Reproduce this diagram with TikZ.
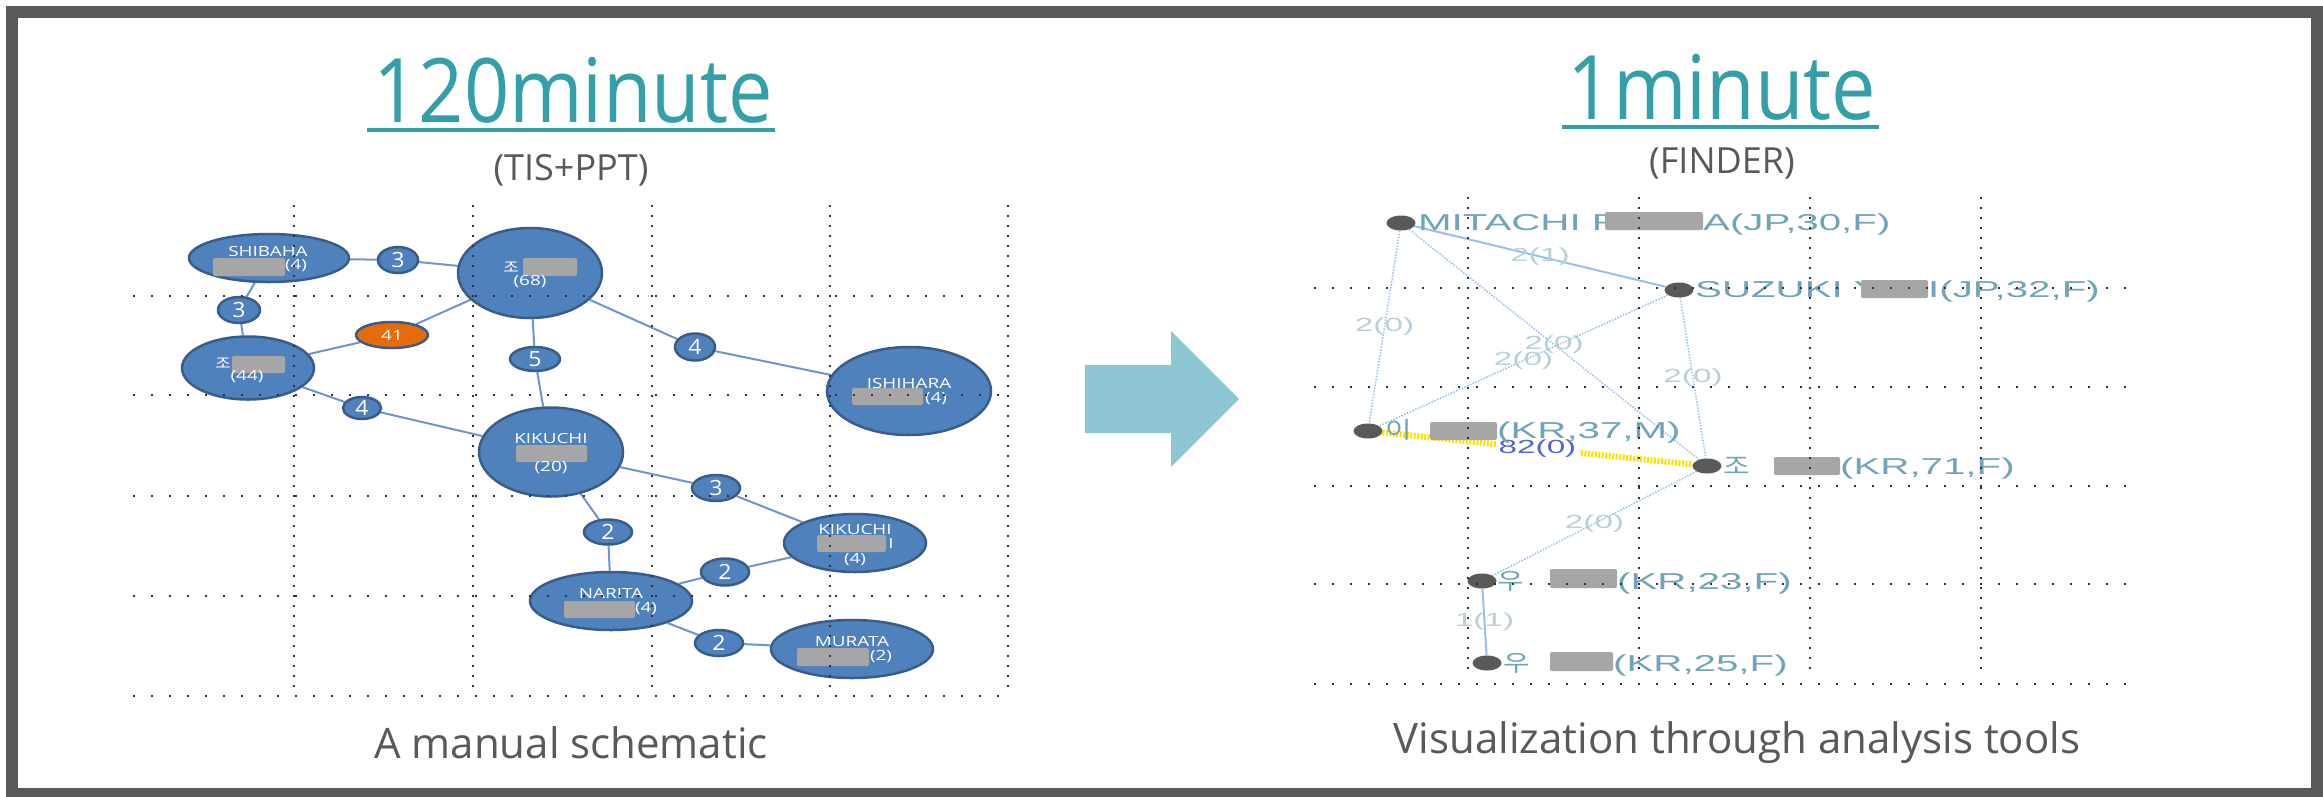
\documentclass[tikz,border=0pt]{standalone}
\usepackage{fontspec}
\setmainfont{Open Sans}
\newfontfamily\titlef[FakeStretch=0.89]{Open Sans}
\newfontfamily\nodef[FakeStretch=1.35]{Open Sans}
\newfontfamily\digf[FakeStretch=1.1]{Open Sans}
\newfontfamily\nodekr[FakeStretch=1.2]{Noto Sans CJK KR}
\newfontfamily\finder[FakeStretch=1.75]{Liberation Sans}
\newfontfamily\finderkr[FakeStretch=1.25]{Noto Sans CJK KR}
\usetikzlibrary{shapes.geometric}
\pgfdeclarelayer{bg}
\pgfdeclarelayer{edges}
\pgfsetlayers{bg,edges,main}
\definecolor{teal}{RGB}{51,159,168}
\definecolor{txtgray}{RGB}{89,89,89}
\definecolor{framegray}{RGB}{89,89,89}
\definecolor{arrowblue}{RGB}{142,198,212}
\definecolor{nodeblue}{RGB}{79,129,189}
\definecolor{nodeborder}{RGB}{56,93,138}
\definecolor{orangeN}{RGB}{228,108,10}
\definecolor{ledge}{RGB}{110,150,205}
\definecolor{redact}{RGB}{166,166,166}
\definecolor{gridc}{RGB}{50,50,50}
\definecolor{dotgray}{RGB}{89,89,89}
\definecolor{fline}{RGB}{150,192,240}
\definecolor{ftextc}{RGB}{112,164,184}
\definecolor{flabelc}{RGB}{185,208,216}
\definecolor{yellowL}{RGB}{255,225,0}
\definecolor{blueL}{RGB}{85,100,215}
\begin{document}
\begin{tikzpicture}[x=1pt,y=-1pt,
  lnode/.style={ellipse, draw=nodeborder, fill=nodeblue, line width=2.5, inner sep=0},
  lnum/.style={lnode, font=\digf\fontsize{21}{24}\selectfont, text=white},
  ltext/.style={font=\nodef\fontsize{14}{16}\selectfont, text=white, inner sep=0},
  ltextkr/.style={font=\nodekr\fontsize{14}{16}\selectfont, text=white, inner sep=0},
  ledgeS/.style={draw=ledge, line width=2},
  gridh/.style={draw=gridc, line width=2, dash pattern=on 2pt off 16pt},
  gridv/.style={draw=gridc, line width=2, dash pattern=on 2pt off 8pt},
  fnode/.style={ellipse, fill=dotgray, minimum width=29, minimum height=15, inner sep=0},
  ftext/.style={font=\finder\fontsize{23}{26}\selectfont, text=ftextc, inner sep=0, anchor=base west},
  ftextkr/.style={font=\finderkr\fontsize{23}{26}\selectfont, text=ftextc, inner sep=0, anchor=base west},
  flab/.style={font=\finder\fontsize{19}{21}\selectfont, text=flabelc, inner sep=0},
  fsolid/.style={draw=fline, line width=2},
  fdots/.style={draw=fline, line width=1.5, dash pattern=on 1.5pt off 1.5pt},
  redbox/.style={fill=redact, rounded corners=2}
]
\useasboundingbox (0,0) rectangle (2323,796);
\begin{pgfonlayer}{bg}
\fill[white] (0,0) rectangle (2323,796);
\draw[framegray, line width=12] (12,12) rectangle (2317,794);
\end{pgfonlayer}

% titles
\node[anchor=base, text=teal, font=\titlef\fontsize{89}{100}\selectfont, inner sep=0] (t1) at (573,122) {120minute};
\draw[teal, line width=4] ([xshift=-6pt,yshift=-8pt]t1.base west) -- ([xshift=2pt,yshift=-8pt]t1.base east);
\node[text=txtgray, font=\fontsize{36}{40}\selectfont, inner sep=0] (s1) at (571,170) {(TIS+PPT)};
\node[anchor=base, text=teal, font=\titlef\fontsize{89}{100}\selectfont, inner sep=0] (t2) at (1722,119) {1minute};
\draw[teal, line width=4] ([xshift=-6pt,yshift=-8pt]t2.base west) -- ([xshift=2pt,yshift=-8pt]t2.base east);
\node[text=txtgray, font=\fontsize{36}{40}\selectfont, inner sep=0] (s2) at (1722,163) {(FINDER)};

% arrow
\fill[arrowblue] (1085,365) -- (1171,365) -- (1171,331) -- (1239,399) -- (1171,467) -- (1171,433) -- (1085,433) -- cycle;

% ---------- left diagram ----------
\node[lnode, minimum width=160, minimum height=48] (SH) at (269,258) {};
\node[lnode, minimum width=144, minimum height=90] (J68) at (530,273) {};
\node[lnode, minimum width=132, minimum height=63] (J44) at (248,368) {};
\node[lnode, minimum width=164, minimum height=88] (ISH) at (909,391) {};
\node[lnode, minimum width=144, minimum height=89] (K20) at (551,452) {};
\node[lnode, minimum width=142, minimum height=58] (K4) at (855,543) {};
\node[lnode, minimum width=162, minimum height=58] (NAR) at (611,601) {};
\node[lnode, minimum width=162, minimum height=58] (MUR) at (852,649) {};

\node[lnum, minimum width=40, minimum height=26] (e1) at (398,260) {3};
\node[lnum, minimum width=42, minimum height=26] (e2) at (239,310) {3};
\node[lnode, fill=orangeN, minimum width=72, minimum height=26, font=\nodef\fontsize{14}{16}\selectfont, text=white] (e3) at (392,335) {41};
\node[lnum, minimum width=50, minimum height=24] (e4) at (535,359) {5};
\node[lnum, minimum width=40, minimum height=27] (e5) at (695,347) {4};
\node[lnum, minimum width=38, minimum height=22] (e6) at (362,408) {4};
\node[lnum, minimum width=48, minimum height=26] (e7) at (716,488) {3};
\node[lnum, minimum width=48, minimum height=25] (e8) at (608,532) {2};
\node[lnum, minimum width=48, minimum height=27] (e9) at (725,572) {2};
\node[lnum, minimum width=48, minimum height=26] (e10) at (719,643) {2};

\begin{pgfonlayer}{edges}
\draw[ledgeS] (SH) -- (e1) -- (J68);
\draw[ledgeS] (SH) -- (e2) -- (J44);
\draw[ledgeS] (J44) -- (e3) -- (J68);
\draw[ledgeS] (J68) -- (e4) -- (K20);
\draw[ledgeS] (J68) -- (e5) -- (ISH);
\draw[ledgeS] (J44) -- (e6) -- (K20);
\draw[ledgeS] (K20) -- (e7) -- (K4);
\draw[ledgeS] (K20) -- (e8) -- (NAR);
\draw[ledgeS] (NAR) -- (e9) -- (K4);
\draw[ledgeS] (NAR) -- (e10) -- (MUR);
\end{pgfonlayer}

% texts in left nodes
\node[ltext] (SHa) at (268,251) {SHIBAHA};
\fill[redbox] (213,258) rectangle (285,276);
\node[ltext] (SHb) at (296,266) {(4)};
\node[ltextkr] (J68a) at (511,267) {조};
\fill[redbox] (523,258) rectangle (577,276);
\node[ltext] (J68b) at (530,282) {(68)};
\node[ltextkr] (J44a) at (223,363) {조};
\fill[redbox] (232,356) rectangle (285,373);
\node[ltext] (J44b) at (247,377) {(44)};
\node[ltext] (ISHa) at (909,383) {ISHIHARA};
\fill[redbox] (852,388) rectangle (923,405);
\node[ltext] (ISHb) at (936,399) {(4)};
\node[ltext] (K20a) at (551,438) {KIKUCHI};
\fill[redbox] (516,445) rectangle (587,462);
\node[ltext] (K20b) at (551,468) {(20)};
\node[ltext] (K4a) at (855,529) {KIKUCHI};
\fill[redbox] (817,535) rectangle (886,552);
\node[ltext] (K4b) at (891,543) {I};
\node[ltext] (K4c) at (855,560) {(4)};
\node[ltext] (NARa) at (611,593) {NARITA};
\fill[redbox] (564,601) rectangle (635,618);
\node[ltext] (NARb) at (646,609) {(4)};
\node[ltext] (MURa) at (852,642) {MURATA};
\fill[redbox] (797,648) rectangle (869,666);
\node[ltext] (MURb) at (881,657) {(2)};

% left grid (on top)
\foreach \x in {294,473,652,830,1008} \draw[gridv] (\x,205) -- (\x,690);
\foreach \y in {296,395,496,596,696} \draw[gridh] (133,\y) -- (1008,\y);

\node[anchor=base, text=txtgray, font=\fontsize{42}{48}\selectfont, inner sep=0] (c1) at (571,758) {A manual schematic};

% ---------- right diagram ----------
\node[fnode] (dM) at (1401,223) {};
\node[fnode] (dS) at (1679,290) {};
\node[fnode] (dL) at (1368,431) {};
\node[fnode] (dJ) at (1707,466) {};
\node[fnode] (dW1) at (1482,581) {};
\node[fnode] (dW2) at (1487,663) {};

\begin{pgfonlayer}{edges}
\draw[fsolid] (dM) -- node[flab] (l1) {2(1)} (dS);
\draw[fdots] (dM) -- node[flab] (l2) {2(0)} (dL);
\draw[fdots] (dM) -- node[flab] (l3) {2(0)} (dJ);
\draw[fdots] (dS) -- node[flab] (l4) {2(0)} (dL);
\draw[fdots] (dS) -- node[flab] (l5) {2(0)} (dJ);
\draw[draw=yellowL, line width=6, dash pattern=on 2pt off 1.5pt] (dL) -- node[flab, text=blueL, fill=white, inner sep=3] (l6) {82(0)} (dJ);
\draw[fdots] (dJ) -- node[flab] (l7) {2(0)} (dW1);
\draw[fsolid] (dW1) -- node[flab] (l8) {1(1)} (dW2);
\end{pgfonlayer}

\node[ftext] (nM1) at (1418,230) {MITACHI R};
\node[ftext] (nM2) at (1703,230) {A(JP,30,F)};
\fill[redbox] (1605,212) rectangle (1703,230);
\node[ftext] (nS1) at (1695,297) {SUZUKI Y};
\node[ftext] (nS2) at (1928,297) {I(JP,32,F)};
\fill[redbox] (1861,280) rectangle (1928,298);
\node[ftextkr] (nL1) at (1385,438) {이};
\node[ftext] (nL2) at (1497,438) {(KR,37,M)};
\fill[redbox] (1430,422) rectangle (1497,440);
\node[ftextkr] (nJ1) at (1723,474) {조};
\node[ftext] (nJ2) at (1840,474) {(KR,71,F)};
\fill[redbox] (1774,457) rectangle (1840,475);
\node[ftextkr] (nW1) at (1497,589) {우};
\node[ftext] (nW2) at (1617,589) {(KR,23,F)};
\fill[redbox] (1550,569) rectangle (1617,588);
\node[ftextkr] (nV1) at (1503,671) {우};
\node[ftext] (nV2) at (1613,671) {(KR,25,F)};
\fill[redbox] (1550,652) rectangle (1613,671);

% right grid (on top)
\foreach \x in {1468,1639,1810,1981} \draw[gridv] (\x,197) -- (\x,675);
\foreach \y in {288,387,486,584,684} \draw[gridh] (1314,\y) -- (2135,\y);

\node[anchor=base, text=txtgray, font=\fontsize{42}{48}\selectfont, inner sep=0] (c2) at (1737,753) {Visualization through analysis tools};
\end{tikzpicture}
\end{document}
